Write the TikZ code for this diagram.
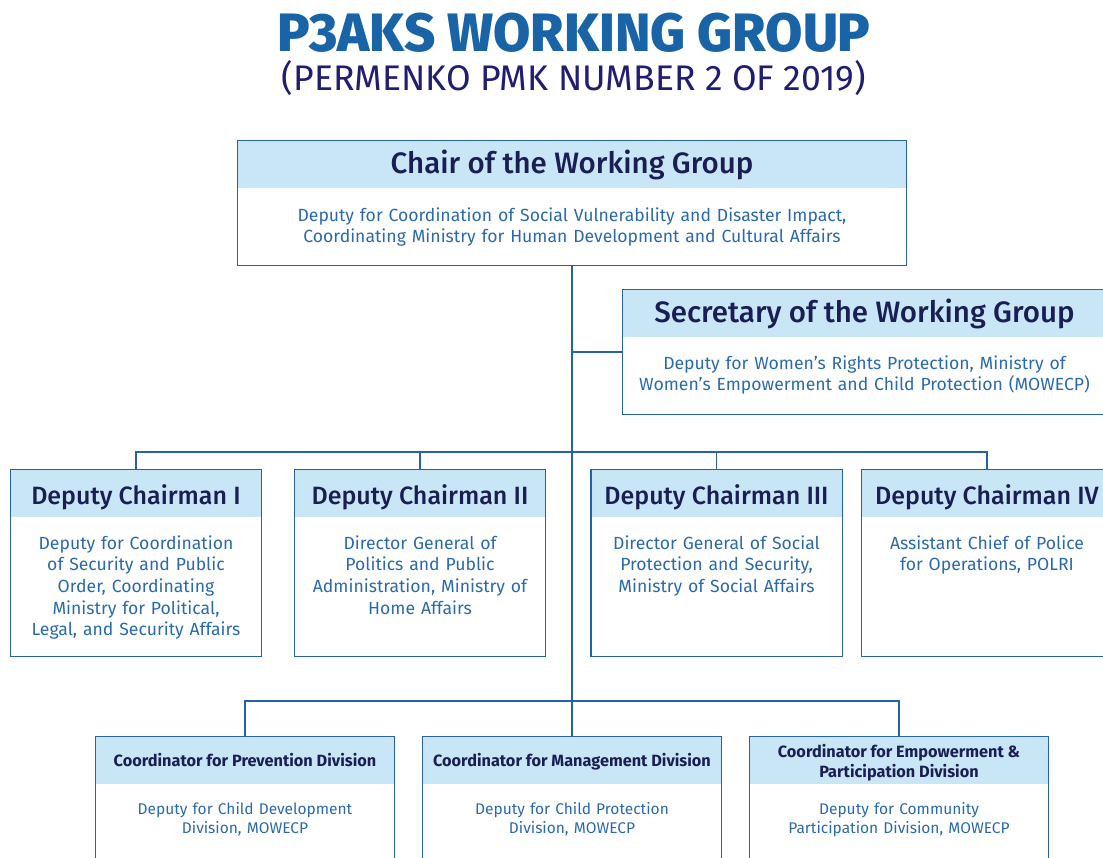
\documentclass[tikz,border=0pt]{standalone}
\usepackage{fontspec}
\setmainfont{Fira Sans}
\newfontfamily\titlefont{Fira Sans ExtraBold}
\newfontfamily\headfont{Fira Sans Medium}
\usetikzlibrary{positioning, fit}

\definecolor{titleblue}{RGB}{24,100,166}
\definecolor{subnavy}{RGB}{32,30,112}
\definecolor{headnavy}{RGB}{26,30,84}
\definecolor{headfill}{RGB}{201,230,247}
\definecolor{textblue}{RGB}{42,106,172}
\definecolor{lineblue}{RGB}{38,98,168}

\begin{document}
\begin{tikzpicture}[x = 1pt, y = -1pt, % one pixel of the picture
                draw = lineblue, line width = 1.2pt, % line style
                node distance = 0pt
            ]

            \tikzstyle{head}=[fill = headfill, text = headnavy, inner sep = 0pt,
            minimum height = 47pt]
            \tikzstyle{bighead}=[head, text height = 33pt, text depth = 14pt,
            font = \headfont\fontsize{29.5}{34}\selectfont]
            \tikzstyle{dephead}=[head, minimum width = 250pt, text height = 34pt,
            text depth = 13pt, font = \headfont\fontsize{25}{29}\selectfont]
            \tikzstyle{coordhead}=[head, minimum width = 298pt, align = center,
            text height = 29.5pt, text depth = 17.5pt,
            font = \bfseries\fontsize{16.3}{20}\selectfont]
            \tikzstyle{body}=[text = textblue, inner xsep = 10pt, inner ysep = 0pt,
            align = center, font = \fontsize{17.6}{21.6}\selectfont]
            \tikzstyle{smallbody}=[body, text width = 278pt, text height = 29pt,
            text depth = 80pt, font = \fontsize{15.5}{19}\selectfont]
            \tikzstyle{depbody}=[body, text width = 230pt, text height = 31pt,
            text depth = 107pt]
            \tikzstyle{frame}=[draw = lineblue, line width = 1.2pt, inner sep = 0pt]

            \useasboundingbox (0,0) rectangle (1103,858);
            \clip (0,0) rectangle (1103,858);

            % title
            \node[anchor = base, text = titleblue,
            font = \titlefont\fontsize{54}{60}\selectfont] (title) at (574,52)
            {P3AKS WORKING GROUP};
            \node[anchor = base, text = subnavy,
            font = \fontsize{35.6}{40}\selectfont] (subtitle) at (574,91)
            {(PERMENKO PMK NUMBER 2 OF 2019)};

            % chair and secretary
            \node[bighead, minimum width = 668pt] (chairh) at (572,164.5)
            {Chair of the Working Group};
            \node[body, text width = 648pt, text height = 32pt, text depth = 44pt,
            below = of chairh] (chairb) {Deputy for Coordination of Social
            Vulnerability and Disaster Impact,\\ Coordinating Ministry for Human
            Development and Cultural Affairs};
            \node[frame, fit = (chairh) (chairb)] (chair) {};

            \node[bighead, minimum width = 483pt] (sech) at (864.5,313.5)
            {Secretary of the Working Group};
            \node[body, text width = 463pt, text height = 31pt, text depth = 45pt,
            below = of sech] (secb) {Deputy for Women's Rights Protection,
            Ministry of\\ Women's Empowerment and Child Protection (MOWECP)};
            \node[frame, fit = (sech) (secb)] (sec) {};

            % deputy chairmen
            \node[dephead] (dep1h) at (136,493.5) {Deputy Chairman I};
            \node[depbody, below = of dep1h] (dep1b) {Deputy for Coordination\\
            of Security and Public\\ Order, Coordinating\\ Ministry for
            Political,\\ Legal, and Security Affairs};
            \node[frame, fit = (dep1h) (dep1b)] (dep1) {};

            \node[dephead] (dep2h) at (420,493.5) {Deputy Chairman II};
            \node[depbody, below = of dep2h] (dep2b) {Director General of\\
            Politics and Public\\ Administration, Ministry of\\ Home Affairs};
            \node[frame, fit = (dep2h) (dep2b)] (dep2) {};

            \node[dephead] (dep3h) at (716.5,493.5) {Deputy Chairman III};
            \node[depbody, below = of dep3h] (dep3b) {Director General of Social\\
            Protection and Security,\\ Ministry of Social Affairs};
            \node[frame, fit = (dep3h) (dep3b)] (dep3) {};

            \node[dephead] (dep4h) at (987,493.5) {Deputy Chairman IV};
            \node[depbody, below = of dep4h] (dep4b) {Assistant Chief of Police\\
            for Operations, POLRI};
            \node[frame, fit = (dep4h) (dep4b)] (dep4) {};

            % coordinators
            \node[coordhead] (cprevh) at (245,760.5)
            {Coordinator for Prevention Division};
            \node[smallbody, below = of cprevh] (cprevb) {Deputy for Child
            Development\\ Division, MOWECP};
            \node[frame, fit = (cprevh) (cprevb)] (cprev) {};

            \node[coordhead] (cmgmth) at (572,760.5)
            {Coordinator for Management Division};
            \node[smallbody, below = of cmgmth] (cmgmtb) {Deputy for Child
            Protection\\ Division, MOWECP};
            \node[frame, fit = (cmgmth) (cmgmtb)] (cmgmt) {};

            \node[coordhead, text height = 40.5pt, text depth = 6.5pt] (cemph)
            at (899,760.5) {Coordinator for Empowerment \&\\ Participation Division};
            \node[smallbody, below = of cemph] (cempb) {Deputy for Community\\
            Participation Division, MOWECP};
            \node[frame, fit = (cemph) (cempb)] (cemp) {};

            % connectors
            \coordinate (depbus) at (572,452);
            \coordinate (coordbus) at (572,701);
            \path[draw] (chair) edge (cmgmt);
            \draw (sec.west) -- (sec.west -| chair.south);
            \draw (dep1.north) |- (depbus) -| (dep4.north);
            \draw (dep2.north) -- (dep2.north |- depbus);
            \draw (dep3.north) -- (dep3.north |- depbus);
            \draw (cprev.north) |- (coordbus) -| (cemp.north);
        \end{tikzpicture}
\end{document}
